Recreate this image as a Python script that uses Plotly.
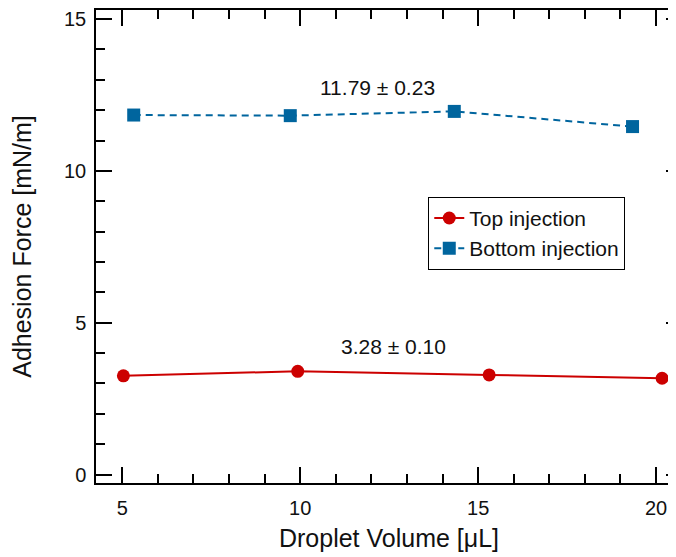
import plotly.graph_objects as go

top_x = [5.03, 9.93, 15.31, 20.17]
top_y = [3.25, 3.40, 3.28, 3.17]
bot_x = [5.32, 9.72, 14.33, 19.34]
bot_y = [11.84, 11.82, 11.96, 11.46]
top_label = "3.28 ± 0.10"
bot_label = "11.79 ± 0.23"

RED = "#CC0000"
BLUE = "#00659E"
INK = "#111111"
FONT = "Liberation Sans, Arial, sans-serif"

fig = go.Figure()
fig.add_trace(go.Scatter(x=top_x, y=top_y, mode="lines+markers", name="Top injection",
                         line=dict(color=RED, width=2),
                         marker=dict(symbol="circle", size=13, color=RED)))
fig.add_trace(go.Scatter(x=bot_x, y=bot_y, mode="lines+markers", name="Bottom injection",
                         line=dict(color=BLUE, width=2, dash="7px,5px"),
                         marker=dict(symbol="square", size=13, color=BLUE)))

fig.add_annotation(x=12.16, y=12.76, text=bot_label, showarrow=False,
                   font=dict(size=21, color=INK, family=FONT), xanchor="center", yanchor="middle")
fig.add_annotation(x=12.61, y=4.22, text=top_label, showarrow=False,
                   font=dict(size=21, color=INK, family=FONT), xanchor="center", yanchor="middle")

axis_common = dict(showline=True, linecolor="black", linewidth=1.5, mirror="ticks",
                   ticks="inside", ticklen=16, tickwidth=1.5, tickcolor="black",
                   showgrid=False, zeroline=False, automargin=False,
                   tickfont=dict(size=20, color=INK, family=FONT),
                   minor=dict(ticks="inside", ticklen=9, tickwidth=1.5, tickcolor="black", dtick=1, showgrid=False))

fig.update_xaxes(range=[4.26, 20.73], tickvals=[5, 10, 15, 20], ticklabelstandoff=6,
                 title=dict(text="Droplet Volume [μL]", font=dict(size=25, color=INK, family=FONT), standoff=12),
                 **axis_common)
fig.update_yaxes(range=[-0.28, 15.3], tickvals=[0, 5, 10, 15], ticklabelstandoff=4,
                 title=dict(text="Adhesion Force [mN/m]", font=dict(size=25, color=INK, family=FONT), standoff=26),
                 **axis_common)

# page body has an 8px margin: figure sits at (8, 8) in the window;
# the right frame edge of the reference lies just outside the window
fig.update_layout(
    width=676, height=549,
    margin=dict(l=88, r=2, t=2, b=74),
    paper_bgcolor="white", plot_bgcolor="white",
    font=dict(family=FONT, color=INK),
    legend=dict(x=0.567, y=0.605, xanchor="left", yanchor="top",
                bgcolor="white", bordercolor="black", borderwidth=1,
                font=dict(size=21, family=FONT, color=INK),
                tracegroupgap=0, itemwidth=30),
    showlegend=True,
)

fig.write_html("out.html")
